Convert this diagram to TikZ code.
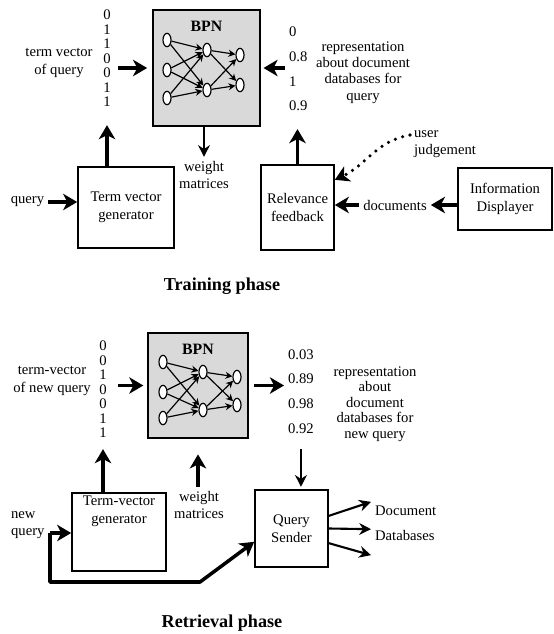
\documentclass[tikz,border=0pt]{standalone}
\usepackage{fontspec}
\setmainfont{Liberation Serif}
\usetikzlibrary{positioning, arrows.meta, shapes.geometric}

\begin{document}
\begin{tikzpicture}[
    x=0.03cm, y=-0.03cm,
    font=\fontsize{12.5}{15}\selectfont,
    box/.style={
        rectangle,
        draw=black,
        line width=1.4pt,
        align=center,
        inner sep=2pt
    },
    bpnbox/.style={
        rectangle,
        draw=black,
        fill=gray!30,
        line width=2pt
    },
    neuron/.style={ellipse, draw, fill=white, line width=1pt,
        minimum width=0.24cm, minimum height=0.4cm, inner sep=0pt},
    netarrow/.style={-{Stealth[length=6pt,width=6pt]}, line width=1pt},
    bigarrow/.style={-{Stealth[length=12pt,width=14pt,inset=3.5pt]}, line width=3pt},
    medarrow/.style={-{Stealth[length=10pt,width=10pt]}, line width=1.8pt},
    dotarrow/.style={-{Stealth[length=12pt,width=14pt,inset=3.5pt]}, line width=3pt,
        line cap=round, dash pattern=on 0pt off 6.5pt},
    digits/.style={align=center, font=\fontsize{12.5}{12.4}\selectfont},
    values/.style={align=left, font=\fontsize{12.5}{21}\selectfont},
    labeltext/.style={align=center},
    phase/.style={font=\fontsize{15.5}{18}\selectfont\bfseries}
]
\useasboundingbox (0,0) rectangle (554,634);

% --- Training phase: BPN ---
\node[bpnbox, minimum width=3.21cm, minimum height=3.48cm] (bpn1) at (206.5,68) {};
\node[font=\fontsize{13.5}{15}\selectfont\bfseries, below=0.24cm of bpn1.north] (bpn1title) {BPN};
\node[neuron] (i1a) at (167,40) {};
\node[neuron] (i1b) at (167,70) {};
\node[neuron] (i1c) at (167,98) {};
\node[neuron] (h1a) at (207,50) {};
\node[neuron] (h1b) at (207,90) {};
\node[neuron] (o1a) at (240,55) {};
\node[neuron] (o1b) at (240,85) {};
\draw[netarrow] (i1a) edge (h1a) edge (h1b)
    (i1b) edge (h1a) edge (h1b)
    (i1c) edge (h1a) edge (h1b)
    (h1a) edge (o1a) edge (o1b)
    (h1b) edge (o1a) edge (o1b);

% --- Training phase: vectors and labels ---
\node[digits] (vec1) at (107,58.5) {0\\1\\1\\0\\0\\1\\1};
\node[labeltext] (tv1lab) at (59,63) {term vector\\of query};
\node[values, anchor=west] (val1) at (285,69) {0\\0.8\\1\\0.9};
\node[labeltext, font=\fontsize{12.5}{13.9}\selectfont] (rep1) at (363,72.5)
    {representation\\about document\\databases for\\query};
\node[labeltext] (wm1) at (204,175) {weight\\matrices};

% --- Training phase: boxes ---
\node[box, minimum width=2.88cm, minimum height=2.43cm] (tvg1) at (126,207.5) {Term vector\\generator};
\node (query1) at (27.5,202) {query};
\node[box, minimum width=2.19cm, minimum height=2.55cm] (rf1) at (297.5,207.5) {Relevance\\feedback};
\node[box, minimum width=2.82cm, minimum height=1.86cm] (idisp) at (505,199) {Information\\Displayer};
\node (docs) at (395,205) {documents};
\node[align=left, anchor=west] (user) at (410,144) {user\\judgement};
\node[phase] (train) at (222,286) {Training phase};

% --- Training phase: arrows ---
\draw[bigarrow, shorten <=3pt, shorten >=4pt] (vec1.east |- bpn1.west) -- (bpn1.west);
\draw[bigarrow, shorten >=2pt] (val1.west |- bpn1.east) -- (bpn1.east);
\draw[medarrow] (wm1.north |- bpn1.south) -- (wm1.north);
\draw[bigarrow, shorten >=12pt] (vec1.south |- tvg1.north) -- (vec1.south);
\draw[bigarrow] (query1.east) -- (query1.east -| tvg1.west);
\draw[bigarrow, shorten >=12pt] (rf1.north) -- (rf1.north |- val1.south);
\draw[bigarrow] (idisp.west |- docs) -- (docs.east);
\draw[bigarrow] (docs.west) -- (docs.west -| rf1.east);
\draw[dotarrow] ([yshift=0.27cm]user.west) to[out=190, in=25] ([yshift=0.83cm]rf1.east);

% --- Retrieval phase: BPN ---
\node[bpnbox, minimum width=3.0cm, minimum height=3.15cm] (bpn2) at (198,385.5) {};
\node[font=\fontsize{13.5}{15}\selectfont\bfseries, below=0.24cm of bpn2.north] (bpn2title) {BPN};
\node[neuron] (i2a) at (163,362) {};
\node[neuron] (i2b) at (163,392) {};
\node[neuron] (i2c) at (163,418) {};
\node[neuron] (h2a) at (203,372) {};
\node[neuron] (h2b) at (203,410) {};
\node[neuron] (o2a) at (237,377) {};
\node[neuron] (o2b) at (237,405) {};
\draw[netarrow] (i2a) edge (h2a) edge (h2b)
    (i2b) edge (h2a) edge (h2b)
    (i2c) edge (h2a) edge (h2b)
    (h2a) edge (o2a) edge (o2b)
    (h2b) edge (o2a) edge (o2b);

% --- Retrieval phase: vectors and labels ---
\node[digits] (vec2) at (103,389.5) {0\\0\\1\\0\\0\\1\\1};
\node[labeltext] (tv2lab) at (52,381) {term-vector\\of new query};
\node[values, anchor=west] (val2) at (284,391.5) {0.03\\0.89\\0.98\\0.92};
\node[labeltext, font=\fontsize{12.5}{13.2}\selectfont] (rep2) at (375,404)
    {representation\\about\\document\\databases for\\new query};
\node[labeltext] (wm2) at (199,505) {weight\\matrices};

% --- Retrieval phase: boxes ---
\node[box, minimum width=2.82cm, minimum height=2.34cm] (tvg2) at (119,532) {};
\node[labeltext, below=0pt of tvg2.north] (tvg2txt) {Term-vector\\generator};
\node[align=left, anchor=west] (newq) at (7,525) {new\\query};
\node[box, minimum width=2.19cm, minimum height=2.31cm] (qs) at (291.5,528.5) {Query\\Sender};
\node[values, anchor=west] (docdb) at (371,523.5) {Document\\Databases};
\node[phase] (retr) at (222,623) {Retrieval phase};
\coordinate (split) at (50,533);
\coordinate (bend) at (200,582);

% --- Retrieval phase: arrows ---
\draw[bigarrow, shorten <=6pt, shorten >=3pt] (vec2.east |- bpn2.west) -- (bpn2.west);
\draw[bigarrow, shorten <=4pt] (bpn2.east) -- (bpn2.east -| val2.west);
\draw[medarrow, shorten <=10pt, shorten >=2pt] (val2.south) -- (val2.south |- qs.north);
\draw[bigarrow, shorten >=6pt] (vec2.south |- tvg2.north) -- (vec2.south);
\draw[bigarrow, shorten >=13pt] (bpn2.south |- wm2.north) -- (bpn2.south);
\draw[bigarrow] (split) -- (split -| tvg2.west);
\draw[bigarrow, line join=round] (split) |- (bend) -- ([yshift=-0.4cm]qs.west);
\draw[medarrow] ([yshift=0.38cm]qs.east) -- ([yshift=0.65cm]docdb.west);
\draw[medarrow] (qs.east) -- ([yshift=-0.17cm]docdb.west);
\draw[medarrow] ([yshift=-0.44cm]qs.east) -- ([yshift=-0.95cm]docdb.west);

\end{tikzpicture}
\end{document}
